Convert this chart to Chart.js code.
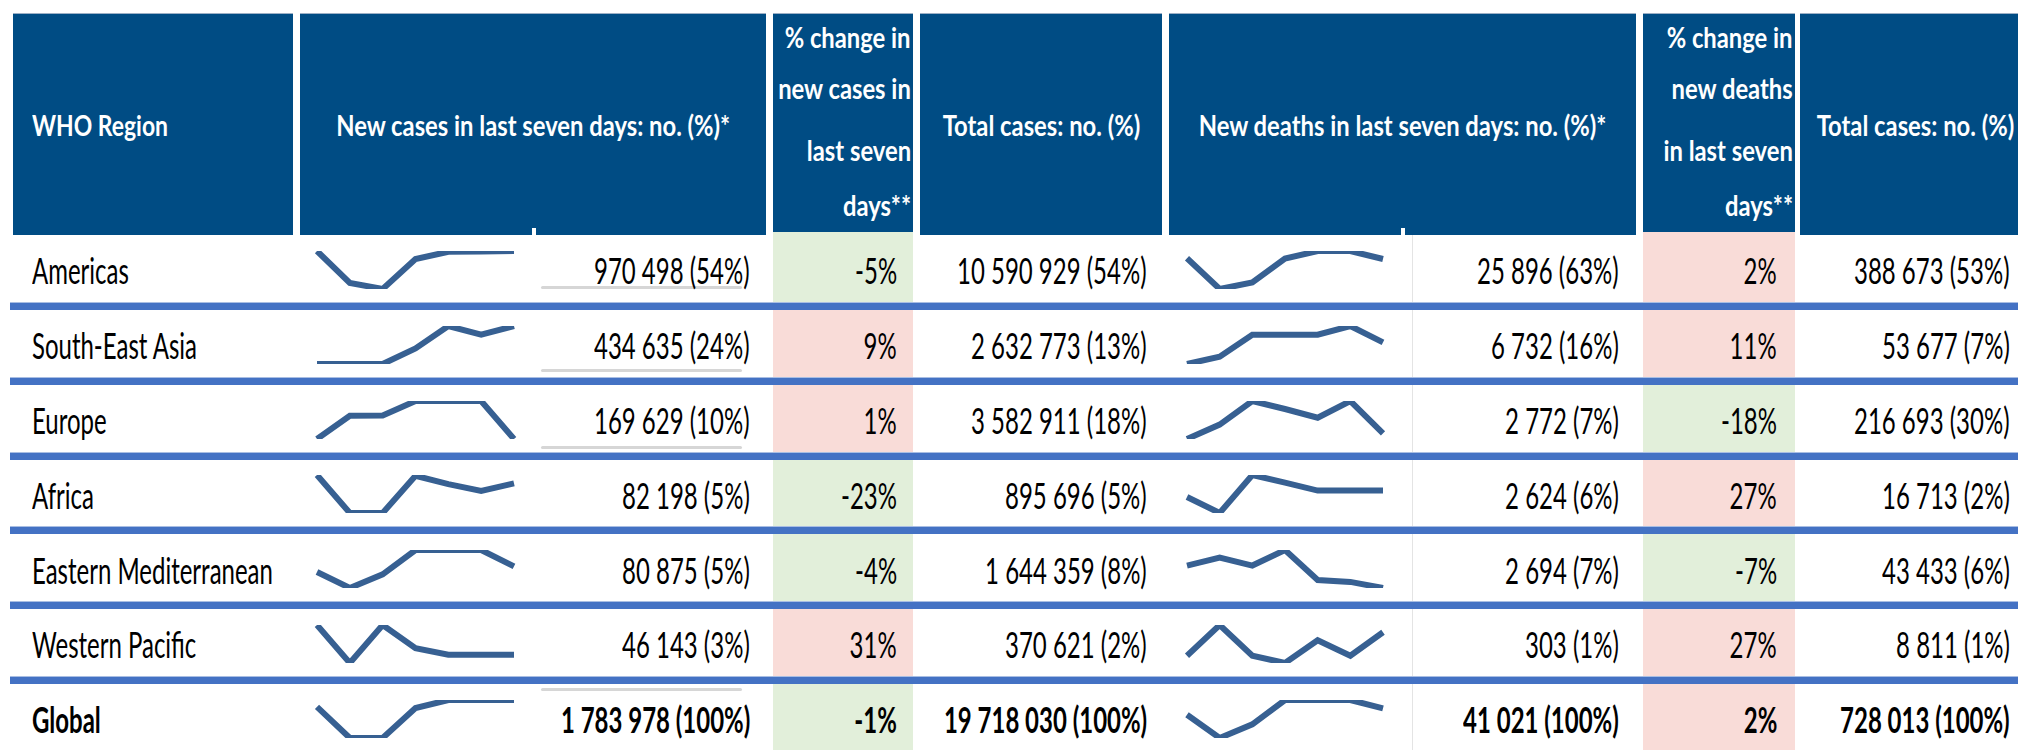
<!DOCTYPE html>
<html><head><meta charset="utf-8">
<script src="https://cdn.jsdelivr.net/npm/chart.js@4.4.1/dist/chart.umd.min.js"></script>
<style>
html,body{margin:0;padding:0;background:#fff;}
#page{position:relative;width:2018px;height:750px;overflow:hidden;background:#fff;font-family:Lato,"Open Sans",sans-serif;}
.box{position:absolute;}
.txt{position:absolute;display:flex;align-items:center;white-space:nowrap;}
.txt span{display:inline-block;line-height:1.2;}
canvas{position:absolute;}
</style></head><body><div id="page"></div>
<script>
// ---------- data ----------
const regions = ["Americas","South-East Asia","Europe","Africa","Eastern Mediterranean","Western Pacific","Global"];
const weeks = ["W1","W2","W3","W4","W5","W6","W7"];
const newCases = [970498,434635,169629,82198,80875,46143,1783978];
const newCasesShare = [54,24,10,5,5,3,100];
const casesChange = [-5,9,1,-23,-4,31,-1];
const totalCases = [10590929,2632773,3582911,895696,1644359,370621,19718030];
const totalCasesShare = [54,13,18,5,8,2,100];
const newDeaths = [25896,6732,2772,2624,2694,303,41021];
const newDeathsShare = [63,16,7,6,7,1,100];
const deathsChange = [2,11,-18,27,-7,27,2];
const totalDeaths = [388673,53677,216693,16713,43433,8811,728013];
const totalDeathsShare = [53,7,30,2,6,1,100];
// weekly trend index (relative height read from the sparklines)
const casesTrend = [
  [100,16,0,79,98,99,100],
  [0,0,0,41,100,77,100],
  [0,61,62,100,100,100,0],
  [100,0,0,98,76,58,78],
  [42,0,36,100,100,100,57],
  [100,0,100,39,22,22,22],
  [82,0,0,79,100,100,100]
];
const deathsTrend = [
  [81,0,17,80,100,100,79],
  [0,19,77,77,77,100,57],
  [0,38,100,79,56,100,15],
  [42,0,100,80,59,59,59],
  [59,80,59,100,21,16,0],
  [19,100,19,0,60,19,81],
  [61,0,36,100,100,100,78]
];
const headerTitles = [
  "WHO Region",
  "New cases in last seven days: no. (%)*",
  ["% change in","new cases in","last seven","days**"],
  "Total cases: no. (%)",
  "New deaths in last seven days: no. (%)*",
  ["% change in","new deaths","in last seven","days**"],
  "Total cases: no. (%)"
];

// ---------- layout ----------
const page = document.getElementById('page');
const BLUE = '#004C84', SEP = '#4472C4', GREEN = '#E2EFDA', PINK = '#F9DCD8', LINE = '#376092';
const cols = [[13,293],[300,766],[773,913],[920,1162],[1169,1636],[1643,1795],[1800,2031]];
const HT = 13, HB = 235, PITCH = 74.8, RH = 68;
const rowTop = i => HB + i*PITCH;
const fmt = n => String(n).replace(/\B(?=(\d{3})+(?!\d))/g,' ');

function box(x,y,w,h,c){const d=document.createElement('div');d.className='box';
  Object.assign(d.style,{left:x+'px',top:y+'px',width:w+'px',height:h+'px',background:c});page.appendChild(d);}
function text(str,x,y,w,h,align,o){
  const d=document.createElement('div');d.className='txt';
  Object.assign(d.style,{left:x+'px',top:y+'px',width:w+'px',height:h+'px',
    justifyContent:align==='left'?'flex-start':align==='right'?'flex-end':'center'});
  const s=document.createElement('span');s.textContent=str;
  Object.assign(s.style,{fontSize:o.size+'px',fontWeight:o.weight||400,color:o.color||'#000',
    transform:'scaleX('+o.sx+')',transformOrigin:(align==='left'?'left':align==='right'?'right':'center')+' center'});
  d.appendChild(s);page.appendChild(d);
}
function rtext(str,xr,y,h,o){text(str,xr-700,y,700,h,'right',o);}

// header
const HF = {size:29,weight:700,color:'#fff',sx:0.82};
cols.forEach((c,i)=>{
  const pct = (i===2||i===5);
  box(c[0],HT,c[1]-c[0],(pct?232:HB)-HT,BLUE);
  box(c[0],HT,c[1]-c[0],1,'#9DB0C6');
  const t = headerTitles[i];
  if (Array.isArray(t)) {
    const base=[48,99,161,216];
    t.forEach((ln,k)=>rtext(ln,c[1]-2,base[k]-29,36,HF));
  } else if (i===0) {
    text(t,32,HT+1,c[1]-c[0],HB-HT,'left',{...HF,sx:0.79});
  } else {
    text(t,c[0],HT+1,c[1]-c[0],HB-HT,'center',HF);
  }
});

// coloured change cells
for (let i=0;i<7;i++){
  const t = i===0?232:rowTop(i), b = i===6?750:rowTop(i)+RH;
  box(cols[2][0],t,cols[2][1]-cols[2][0],b-t,casesChange[i]<0?GREEN:PINK);
  box(cols[5][0],t,cols[5][1]-cols[5][0],b-t,deathsChange[i]<0?GREEN:PINK);
}
// faint artefacts of the original sheet
box(1412,235,1,515,'#E4E4E4');
[[286],[369],[446],[688]].forEach(([y])=>{const d=document.createElement('div');d.className='box';
  Object.assign(d.style,{left:'541px',top:y+'px',width:'201px',height:'3px',background:'#D6D6D6',borderRadius:'2px'});page.appendChild(d);});
box(532,228,4,8,'#fff');box(1401,228,4,8,'#fff');

// separators
for (let i=0;i<6;i++){const y=rowTop(i)+RH;box(10,y-1,2008,1,'#A9BEE3');box(10,y,2008,7,SEP);}

// body text
for (let i=0;i<7;i++){
  const y=rowTop(i)+2, h=RH;
  const o={size:36,weight:i===6?700:400,sx:0.666};
  text(regions[i],32,y,400,h,'left',o);
  rtext(fmt(newCases[i])+' ('+newCasesShare[i]+'%)',750,y,h,o);
  rtext(casesChange[i]+'%',897,y,h,o);
  rtext(fmt(totalCases[i])+' ('+totalCasesShare[i]+'%)',1147,y,h,o);
  rtext(fmt(newDeaths[i])+' ('+newDeathsShare[i]+'%)',1619,y,h,o);
  rtext(deathsChange[i]+'%',1777,y,h,o);
  rtext(fmt(totalDeaths[i])+' ('+totalDeathsShare[i]+'%)',2010,y,h,o);
}

// sparklines drawn by Chart.js
function spark(data,x0,x1,top){
  const P=6, h=37.5;
  const c=document.createElement('canvas');
  const w=Math.round(x1-x0+2*P), H=Math.round(h+2*P);
  c.width=w;c.height=H;
  Object.assign(c.style,{left:(x0-P)+'px',top:(top-P)+'px',width:w+'px',height:H+'px'});
  page.appendChild(c);
  new Chart(c,{type:'line',
    data:{labels:weeks,datasets:[{data:data,borderColor:LINE,borderWidth:6,pointRadius:0,tension:0,fill:false}]},
    options:{responsive:false,animation:false,devicePixelRatio:1,events:[],layout:{padding:P},
      plugins:{legend:{display:false},tooltip:{enabled:false}},
      scales:{x:{display:false,offset:false},y:{display:false,min:Math.min(...data),max:Math.max(...data)}}}});
}
for (let i=0;i<7;i++){
  spark(casesTrend[i],317,514,rowTop(i)+16);
  spark(deathsTrend[i],1187,1383,rowTop(i)+16);
}
</script></body></html>
